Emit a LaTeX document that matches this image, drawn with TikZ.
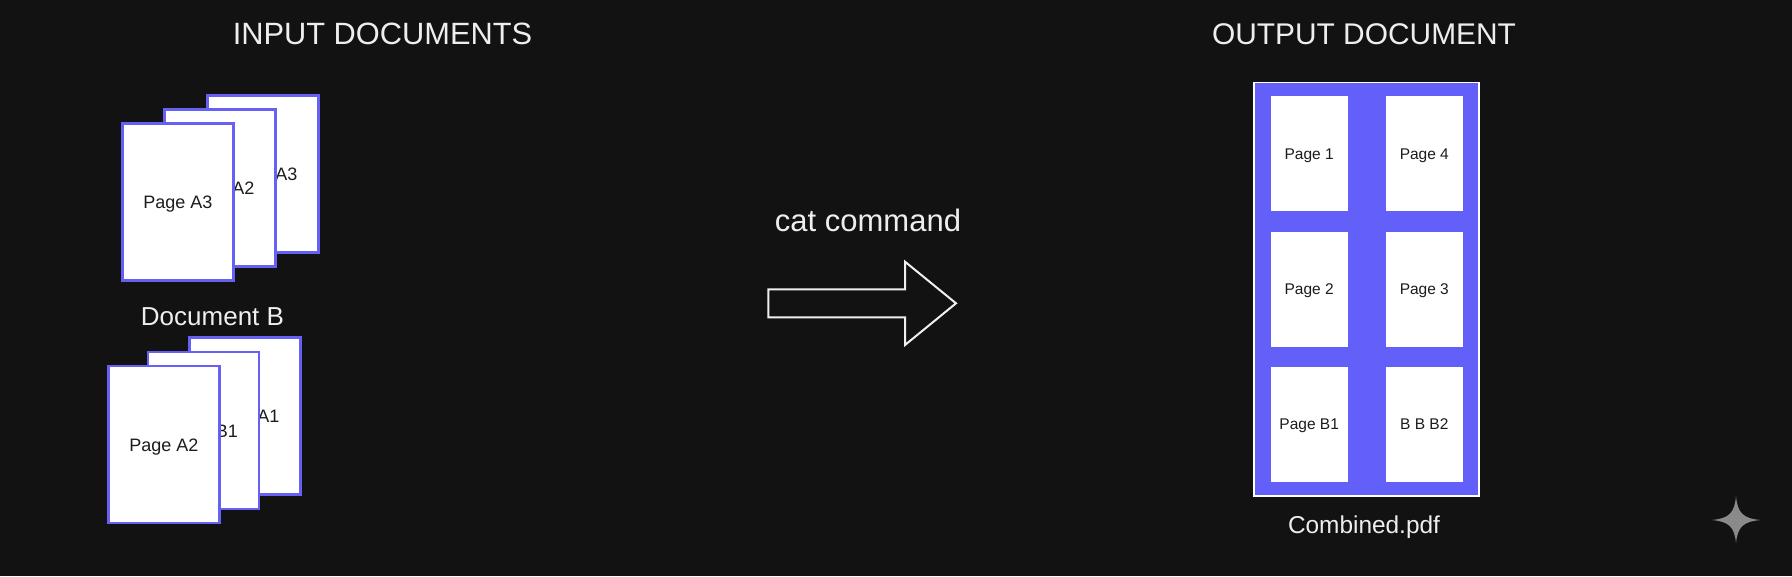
\documentclass[tikz,border=0pt]{standalone}
\usepackage{fontspec}
\setmainfont{Liberation Sans}
\usetikzlibrary{positioning}
\definecolor{bgdark}{HTML}{121212}
\definecolor{pageblue}{RGB}{102,96,245}
\definecolor{sheetblue}{RGB}{98,96,248}
\definecolor{inkdark}{HTML}{1C1C1C}
\definecolor{titlegray}{HTML}{EEEEEE}
\definecolor{sparkgray}{HTML}{8A8A8A}

\begin{document}
\begin{tikzpicture}[x=1pt, y=-1pt,
    page/.style={draw=pageblue, line width=2.7pt, fill=white, minimum width=111pt, minimum height=157pt, inner sep=0pt, text=inkdark, text height=15pt, text depth=2pt, font=\fontsize{18}{20}\selectfont},
    sheet/.style={fill=white, minimum width=77pt, minimum height=115pt, inner sep=0pt, text=inkdark, text height=13pt, text depth=2pt, font=\fontsize{15.5}{18}\selectfont},
    heading/.style={text=titlegray, anchor=base, inner sep=0pt, font=\fontsize{30.8}{36}\selectfont}]
    % Background
    \fill[bgdark] (0,0) rectangle (1792,576);
    \useasboundingbox (0,0) rectangle (1792,576);

    % Input documents (top stack)
    \node[heading] (intitle) at (382.5,44) {INPUT DOCUMENTS};
    \node[page] (topback) at (263,174) {Page A3};
    \node[page] (topmid) at (220,188) {Page A2};
    \node[page] (topfront) at (178,202) {Page A3};

    % Document B (bottom stack)
    \node[heading, font=\fontsize{26}{30}\selectfont] (docb) at (212.5,325.7) {Document B};
    \node[page] (botback) at (245,416) {Page A1};
    \node[page] (botmid) at (203.5,430.5) {Page B1};
    \node[page] (botfront) at (164,444.5) {Page A2};

    % cat command arrow
    \node[heading, font=\fontsize{31}{36}\selectfont] (catlabel) at (868,231.7) {cat command};
    \draw[draw=titlegray!90, line width=2pt, line join=miter]
        (768.3,289.3) -- (905,289.3) -- (905,261.7) -- (956,303.3)
        -- (905,345) -- (905,317.3) -- (768.3,317.3) -- cycle;

    % Output document
    \node[heading, font=\fontsize{29.9}{35}\selectfont] (outtitle) at (1364,44) {OUTPUT DOCUMENT};
    \node[draw=white, line width=1.5pt, fill=sheetblue, minimum width=225pt, minimum height=413.5pt] (outdoc) at (1366.7,289.2) {};
    \foreach \cx/\cy/\lbl [count=\i] in {1309.2/153.8/Page 1, 1424.3/153.8/Page 4,
                                       1309.2/289.2/Page 2, 1424.3/289.2/Page 3,
                                       1309.2/424.2/Page B1, 1424.3/424.2/B B B2} {
        \node[sheet] (sheet\i) at (\cx,\cy) {\lbl};
    }
    \node[heading, font=\fontsize{24.4}{28}\selectfont] (combined) at (1364,533.5) {Combined.pdf};

    % Sparkle mark
    \fill[sparkgray] (1736,496) .. controls (1737.5,513) and (1743,518.5) .. (1760.7,520)
        .. controls (1743,521.5) and (1737.5,527) .. (1736,543.3)
        .. controls (1734.5,527) and (1729,521.5) .. (1711.7,520)
        .. controls (1729,518.5) and (1734.5,513) .. cycle;
\end{tikzpicture}
\end{document}
